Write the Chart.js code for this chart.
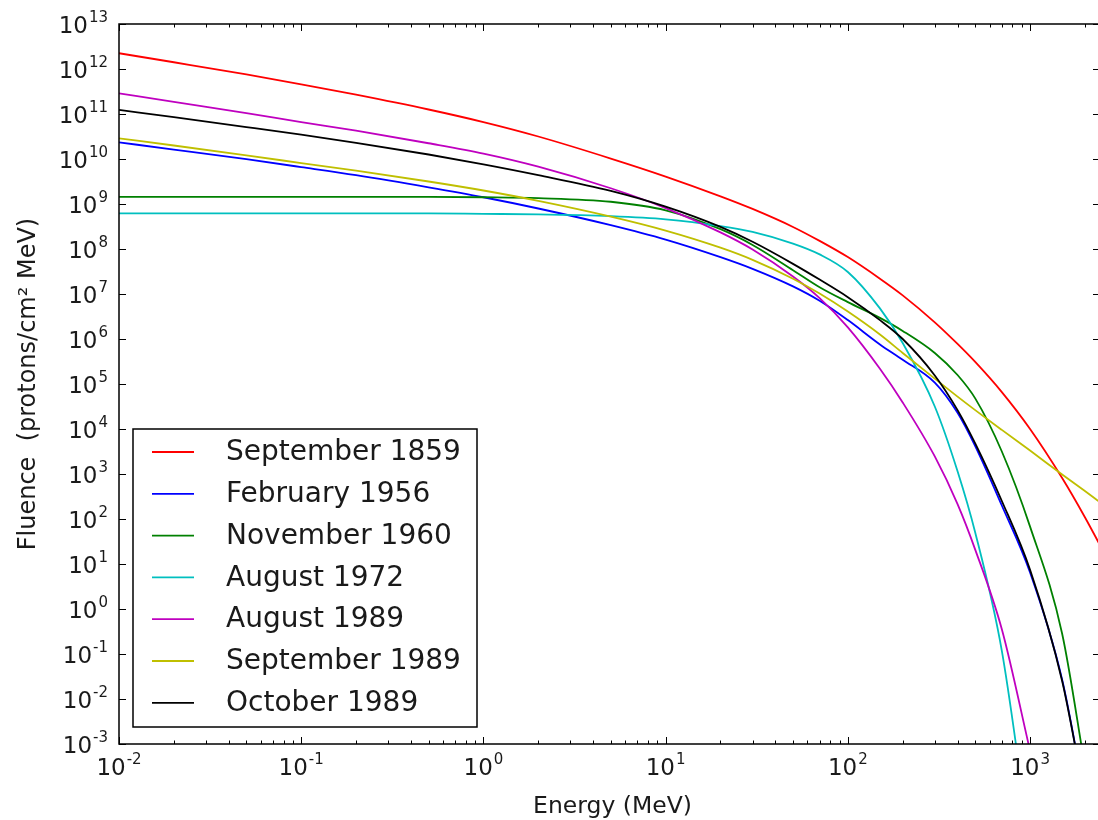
<!DOCTYPE html>
<html>
<head>
<meta charset="utf-8">
<script src="https://cdn.jsdelivr.net/npm/chart.js@4.4.1/dist/chart.umd.min.js"></script>
<style>
  html, body { margin: 0; padding: 0; background: #fff; overflow: hidden; }
  #wrap { width: 1104px; height: 820px; }
</style>
</head>
<body>
<div id="wrap"><canvas id="fluence" width="1104" height="820"></canvas></div>
<script>
// energy grid (MeV) shared by every event
const energies = [0.01, 0.02, 0.05, 0.1, 0.2, 0.5, 1, 2, 5, 10, 20, 30, 50, 70, 100, 150, 200, 300, 400, 500, 700, 1000, 1500, 2000, 2420];

// log10 of fluence (protons/cm2 MeV) at each energy, null once the curve has left the plot
const sep1859 = [12.35, 12.15, 11.88, 11.66, 11.43, 11.10, 10.82, 10.50, 10.01, 9.61, 9.17, 8.89, 8.49, 8.18, 7.82, 7.34, 6.97, 6.37, 5.89, 5.49, 4.82, 4.0, 2.91, 2.04, 1.42];
const feb1956 = [10.37, 10.21, 9.995, 9.82, 9.64, 9.37, 9.15, 8.90, 8.53, 8.21, 7.82, 7.56, 7.17, 6.85, 6.42, 5.88, 5.54, 5.03, 4.36, 3.62, 2.3, 0.81, -1.57, -4.2, null];
const nov1960 = [9.16, 9.16, 9.16, 9.16, 9.16, 9.16, 9.15, 9.13, 9.05, 8.86, 8.44, 8.09, 7.53, 7.15, 6.82, 6.47, 6.18, 5.69, 5.2, 4.68, 3.5, 1.83, -0.55, -3.5, null];
const aug1972 = [8.79, 8.79, 8.79, 8.79, 8.79, 8.79, 8.78, 8.77, 8.73, 8.66, 8.51, 8.38, 8.12, 7.88, 7.49, 6.68, 5.91, 4.5, 3.06, 1.70, -0.93, -5.27, null, null, null];
const aug1989 = [11.46, 11.27, 11.02, 10.82, 10.63, 10.35, 10.12, 9.83, 9.35, 8.91, 8.37, 7.99, 7.39, 6.91, 6.26, 5.34, 4.59, 3.39, 2.33, 1.32, -0.45, -3.15, null, null, null];
const sep1989 = [10.46, 10.30, 10.08, 9.91, 9.74, 9.50, 9.30, 9.07, 8.72, 8.41, 8.03, 7.76, 7.34, 7.01, 6.61, 6.10, 5.69, 5.12, 4.72, 4.42, 3.98, 3.52, 2.99, 2.62, 2.37];
const oct1989 = [11.09, 10.93, 10.71, 10.54, 10.36, 10.10, 9.88, 9.64, 9.29, 8.94, 8.49, 8.16, 7.67, 7.32, 6.93, 6.42, 6.0, 5.19, 4.42, 3.68, 2.4, 0.87, -1.6, -4.2, null];

const eventNames = ["September 1859", "February 1956", "November 1960", "August 1972", "August 1989", "September 1989", "October 1989"];
const eventColors = ["#ff0000", "#0000ff", "#008000", "#00bfbf", "#bf00bf", "#bfbf00", "#000000"];

// decade tick labels
const xExponents = [-2, -1, 0, 1, 2, 3];
const yExponents = [-3, -2, -1, 0, 1, 2, 3, 4, 5, 6, 7, 8, 9, 10, 11, 12, 13];

const FONT = '"DejaVu Sans", sans-serif';
const INK = "#1a1a1a";

const series = [sep1859, feb1956, nov1960, aug1972, aug1989, sep1989, oct1989];

const datasets = series.map((vals, i) => ({
  label: eventNames[i],
  data: energies
    .map((e, j) => (vals[j] === null ? null : { x: e, y: Math.pow(10, vals[j]) }))
    .filter(p => p),
  borderColor: eventColors[i],
  borderWidth: 1.8,
  pointRadius: 0,
  fill: false,
  cubicInterpolationMode: "monotone",
  order: series.length - i
}));

// "10" with a raised exponent
const drawPower = (ctx, exp, x, baseline, align) => {
  ctx.font = `23px ${FONT}`;
  const wBase = ctx.measureText("10").width;
  ctx.font = `15px ${FONT}`;
  const wExp = ctx.measureText(String(exp)).width;
  const total = wBase + 1 + wExp;
  const x0 = align === "right" ? x - total : x - total / 2;
  ctx.textAlign = "left";
  ctx.textBaseline = "alphabetic";
  ctx.font = `23px ${FONT}`;
  ctx.fillText("10", x0, baseline);
  ctx.font = `15px ${FONT}`;
  ctx.fillText(String(exp), x0 + wBase + 1, baseline - 11);
};

const axesFrame = {
  id: "axesFrame",
  afterDraw(chart) {
    const ctx = chart.ctx;
    const ca = chart.chartArea;
    const sx = chart.scales.x;
    const sy = chart.scales.y;
    ctx.save();

    // spines
    ctx.strokeStyle = "#000";
    ctx.lineWidth = 1.5;
    ctx.strokeRect(ca.left, ca.top, ca.right - ca.left, ca.bottom - ca.top);

    // inward ticks
    ctx.lineWidth = 1;
    ctx.beginPath();
    xExponents.forEach(ex => {
      for (let m = 1; m <= 9; m++) {
        const v = m * Math.pow(10, ex);
        if (v < sx.min || v > sx.max) continue;
        const px = Math.round(sx.getPixelForValue(v)) + 0.5;
        const len = m === 1 ? 7 : 3.5;
        ctx.moveTo(px, ca.bottom); ctx.lineTo(px, ca.bottom - len);
        ctx.moveTo(px, ca.top); ctx.lineTo(px, ca.top + len);
      }
    });
    yExponents.forEach(ex => {
      const py = Math.round(sy.getPixelForValue(Math.pow(10, ex))) + 0.5;
      ctx.moveTo(ca.left, py); ctx.lineTo(ca.left + 7, py);
      ctx.moveTo(ca.right, py); ctx.lineTo(ca.right - 7, py);
    });
    ctx.stroke();

    // tick labels
    ctx.fillStyle = INK;
    xExponents.forEach(ex => {
      drawPower(ctx, ex, sx.getPixelForValue(Math.pow(10, ex)), ca.bottom + 31, "center");
    });
    yExponents.forEach(ex => {
      drawPower(ctx, ex, ca.left - 11, sy.getPixelForValue(Math.pow(10, ex)) + 8.5, "right");
    });

    // axis titles
    ctx.font = `23.5px ${FONT}`;
    ctx.textAlign = "center";
    ctx.textBaseline = "alphabetic";
    ctx.fillText("Energy (MeV)", (ca.left + ca.right) / 2 + 3, ca.bottom + 69);
    ctx.save();
    ctx.translate(35, (ca.top + ca.bottom) / 2);
    ctx.rotate(-Math.PI / 2);
    ctx.font = `24px ${FONT}`;
    ctx.fillText("Fluence  (protons/cm\u00B2 MeV)", 0, 0);
    ctx.restore();

    // legend box, lower left inside the plot
    const bx = ca.left + 14, bw = 344, bh = 298;
    const by = ca.bottom - 17 - bh;
    ctx.fillStyle = "#fff";
    ctx.fillRect(bx, by, bw, bh);
    ctx.strokeStyle = "#000";
    ctx.lineWidth = 1.5;
    ctx.strokeRect(bx, by, bw, bh);
    ctx.font = `28px ${FONT}`;
    ctx.textAlign = "left";
    ctx.textBaseline = "middle";
    chart.data.datasets.forEach((ds, i) => {
      const ry = by + 23 + i * 41.8;
      ctx.strokeStyle = ds.borderColor;
      ctx.lineWidth = 1.8;
      ctx.beginPath();
      ctx.moveTo(bx + 19, ry); ctx.lineTo(bx + 61, ry);
      ctx.stroke();
      ctx.fillStyle = INK;
      ctx.fillText(ds.label, bx + 93, ry + 1);
    });

    ctx.restore();
  }
};

new Chart(document.getElementById("fluence"), {
  type: "line",
  data: { datasets },
  options: {
    responsive: false,
    animation: false,
    devicePixelRatio: 1,
    layout: { padding: { left: 119, top: 24, right: 4, bottom: 76 } },
    plugins: { legend: { display: false }, tooltip: { enabled: false } },
    scales: {
      x: { type: "logarithmic", min: 0.01, max: 2420, display: false },
      y: { type: "logarithmic", min: 1e-3, max: 1e13, display: false }
    }
  },
  plugins: [axesFrame]
});
</script>
</body>
</html>
